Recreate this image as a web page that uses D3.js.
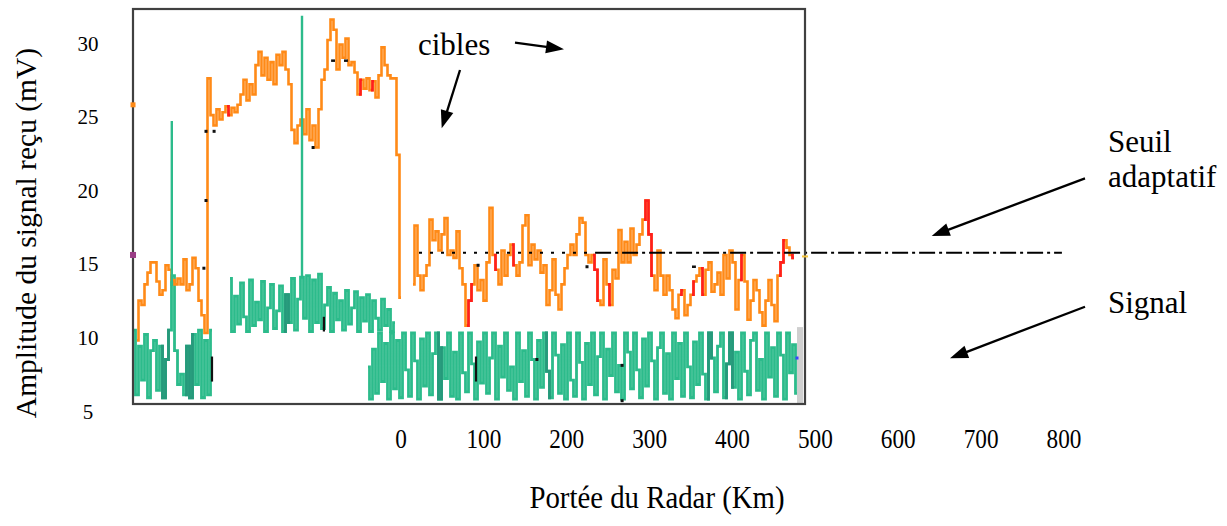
<!DOCTYPE html>
<html>
<head>
<meta charset="utf-8">
<script src="https://cdn.jsdelivr.net/npm/d3@7"></script>
<style>
  body { margin: 0; background: #fff; }
  svg { display: block; }
  text { font-family: "Liberation Serif", "Times New Roman", serif; fill: #000; }
</style>
</head>
<body>
<svg id="chart" width="1227" height="526"></svg>
<script>
// ---- Data (amplitudes in mV, one value per range cell k = 0..222) ----

// Received signal (orange), null where nothing is drawn
const signalRecu = [
  null, 9.8, 12.5, 12.2, 13.6, 14.4, 15.1, 15.1, 13.8, 12.9,
  13.2, 14.9, 14.6, 13.9, 13.6, 14.0, 13.6, 15.3, 13.2, 13.6,
  15.4, 14.7, 12.5, 11.5, 10.3, 27.6, 25.1, 24.4, 25.5, 24.8,
  25.3, 25.7, 25.1, 25.6, 25.3, 25.8, 26.5, 27.5, 26.1, 27.2,
  26.5, 28.5, 29.4, 27.8, 29.0, 27.5, 28.7, 27.2, 29.2, 28.5,
  29.4, 28.2, 27.2, 24.1, 23.2, 24.4, 24.8, 23.8, 25.5, 23.4,
  24.4, 22.9, 25.5, 27.5, 28.2, 30.2, 31.6, 30.9, 28.2, 29.9,
  29.0, 30.3, 28.5, 28.7, 28.0, 26.5, 27.5, 26.9, 27.6, 26.8,
  27.4, 26.3, 27.8, 29.7, 28.5, 27.8, 27.6, 27.6, 22.4, 12.7,
  null, null, null, 13.6, 17.6, 14.2, 13.2, 14.2, 14.9, 18.0,
  16.6, 17.2, 15.9, 17.0, 18.1, 15.6, 15.9, 15.4, 17.2, 14.7,
  13.6, 10.8, 12.5, 13.6, 14.9, 13.2, 13.9, 12.5, 15.1, 18.8,
  15.6, 14.6, 13.6, 15.9, 14.2, 15.6, 16.3, 14.9, 14.2, 15.1,
  17.6, 18.3, 14.9, 16.3, 15.3, 15.9, 14.4, 14.9, 12.2, 13.2,
  15.3, 12.9, 11.9, 13.6, 14.7, 15.6, 16.3, 15.6, 17.0, 18.1,
  17.8, 15.6, 15.1, 15.6, 14.6, 12.5, 12.2, 15.3, 13.6, 12.2,
  14.6, 14.0, 17.3, 15.1, 16.5, 15.1, 17.4, 15.6, 16.3, 17.0,
  18.0, 19.3, 17.0, 14.2, 13.2, 15.9, 14.2, 12.9, 14.2, 13.2,
  11.9, 11.3, 12.9, 13.2, 11.5, 12.2, 12.9, 13.8, 14.2, 14.7,
  12.9, 14.6, 15.1, 13.1, 13.6, 14.4, 12.9, 15.6, 14.0, 15.9,
  15.1, 11.9, 13.9, 15.6, 13.8, 11.2, 12.5, 13.9, 13.2, 11.7,
  10.8, 12.5, 13.9, 12.2, 11.1, 14.2, 15.1, 16.6, 16.1, 15.6,
  15.4, null, null
];

// Cells of the received signal shown in red (inclusive k ranges)
const detectionsRouges = [
  [31, 31], [75, 75], [79, 79], [111, 112], [120, 120], [126, 126],
  [153, 154], [158, 158], [170, 172], [182, 182], [186, 186], [189, 189],
  [202, 202], [215, 216], [219, 220]
];

// Signal (green): three blocks, each with its first cell index
const signalGaucheDebut = 0;
const signalGauche = [
  10.5, 6.1, 9.4, 7.1, 10.2, 5.9, 9.1, 9.8, 6.4, 9.4,
  5.9, 8.5, 10.5, 14.2, 9.1, 6.8, 7.5, 6.1, 9.4, 5.9,
  10.2, 6.8, 10.5, 5.9, 9.8, 6.1, 10.5
];
const signalHautDebut = 32;
const signalHaut = [
  14.0, 10.4, 12.8, 10.9, 13.7, 11.4, 10.4, 13.9, 10.8, 12.4,
  11.2, 13.8, 10.4, 12.0, 13.6, 10.6, 11.8, 13.5, 10.4, 12.9,
  11.0, 14.0, 10.5, 12.6, 14.1, 11.3, 14.2, 10.4, 13.9, 11.0,
  14.3, 10.6, 12.2, 13.4, 10.4, 13.0, 11.2, 12.5, 10.5, 13.2,
  10.9, 12.0, 13.1, 10.4, 12.7, 11.1, 12.9, 10.4, 12.5, 11.3,
  10.5, 12.6, 10.8, 11.9, 10.4, 11.0
];
const signalDroiteDebut = 78;
const signalDroite = [
  8.0, 5.8, 9.2, 6.2, 10.3, 7.0, 9.6, 5.8, 10.3, 6.5,
  9.8, 5.9, 10.3, 7.8, 6.0, 10.3, 8.4, 5.8, 9.9, 6.7,
  10.3, 6.1, 8.9, 10.3, 5.8, 9.3, 7.2, 10.3, 6.0, 9.0,
  5.8, 10.3, 7.6, 6.3, 10.3, 8.2, 5.8, 9.7, 6.9, 10.3,
  6.2, 8.6, 10.3, 5.8, 9.4, 7.3, 10.3, 6.4, 8.0, 5.8,
  10.3, 7.0, 9.1, 6.0, 10.3, 8.5, 5.8, 9.8, 6.6, 10.3,
  7.7, 5.9, 10.3, 8.8, 6.2, 9.5, 5.8, 10.3, 7.1, 6.0,
  10.3, 8.3, 5.8, 9.6, 6.8, 10.3, 6.1, 8.7, 10.3, 5.8,
  9.2, 7.4, 10.3, 6.3, 8.1, 5.8, 10.3, 9.0, 6.5, 10.3,
  7.8, 5.9, 9.9, 6.7, 10.3, 8.4, 5.8, 9.3, 10.3, 6.2,
  8.9, 5.8, 10.3, 7.2, 9.6, 6.0, 10.3, 8.0, 5.9, 9.7,
  6.8, 10.3, 7.5, 5.8, 10.3, 8.6, 6.3, 9.4, 10.3, 5.9,
  8.2, 10.3, 6.6, 9.0, 5.8, 10.3, 7.7, 6.1, 9.8, 10.3,
  6.4, 8.5, 5.8, 10.3, 7.3, 9.3, 6.0, 10.3, 8.8, 5.8,
  10.3, 7.6, 9.5, 6.2
];
// Darker green overlay ranges (inclusive k)
const signalFonce = [[9, 11], [17, 19], [50, 51], [101, 102], [137, 138], [191, 192], [197, 199]];

// Isolated echoes (green spikes): cell, base and peak in mV
const echos = [
  { k: 12.6, base: 13.5, pic: 24.7 },
  { k: 56.0, base: 14.0, pic: 31.85 }
];

// Adaptive threshold level and its drawn spans (k ranges)
const seuilNiveau = 15.75;
const seuilPointille = [95, 152.7];
const seuilTiretPoint = [153.7, 309.3];

// Individual threshold samples (black marks)
const seuilPoints = [[24, 24.0], [26.7, 24.0], [24, 19.3], [23.3, 14.7], [59.7, 22.9],
                     [114.7, 14.9], [151, 14.8], [134.3, 8.5], [162.7, 8.1], [162.7, 5.7]];
const seuilTirets = [[65.7, 67, 28.8], [70, 71.3, 28.8], [186, 187.3, 14.8]];
const seuilVerticaux = [[26, 8.7, 7.0], [63.3, 11.4, 10.4], [114, 8.7, 7.0]];

// Small markers on the frame edges
const reperes = [
  { k: -0.33, v: 25.8, c: "#ff8a17", w: 5, h: 5 },
  { k: -0.33, v: 15.6, c: "#9a3d86", w: 6, h: 6 },
  { k: 223.67, v: 15.5, c: "#f2c23a", w: 6, h: 2 },
  { k: 221, v: 8.6, c: "#3a45ff", w: 3, h: 3 }
];
const bandeGrise = { k0: 221, k1: 223, haut: 10.7 };

// Axis labels
const yTicks = [5, 10, 15, 20, 25, 30];
const xTicks = [0, 100, 200, 300, 400, 500, 600, 700, 800];

// ---- Drawing ----
const svg = d3.select("#chart");
const frame = { left: 133, right: 805, top: 9, bottom: 404 };

const xk = d3.scaleLinear().domain([0, 222]).range([134, 800]);
const y = d3.scaleLinear().domain([5, 30]).range([411, 43]);
const xKm = d3.scaleLinear().domain([0, 800]).range([401, 1064]);

const COL_ORANGE = "#ff8a17", COL_RED = "#ff1e1e", COL_GREEN = "#2cbb8b", COL_DKGREEN = "#26997b";

const toPts = (arr, start) => arr.map((v, i) => ({ k: start + i, v }));
const line = d3.line()
  .defined(d => d.v != null)
  .x(d => xk(d.k))
  .y(d => y(d.v))
  .curve(d3.curveStep);
const sub = (pts, a, b) => pts.filter(d => d.k >= a && d.k <= b);

// grey band at the right end
svg.append("rect")
  .attr("x", xk(bandeGrise.k0)).attr("width", xk(bandeGrise.k1) - xk(bandeGrise.k0))
  .attr("y", y(bandeGrise.haut)).attr("height", frame.bottom - y(bandeGrise.haut))
  .attr("fill", "#cfcfcf");

// green signal blocks
const gLeft = toPts(signalGauche, signalGaucheDebut);
const gUp = toPts(signalHaut, signalHautDebut);
const gRight = toPts(signalDroite, signalDroiteDebut);
const gSignal = svg.append("g").attr("fill", "none").attr("stroke-width", 2.8).attr("stroke-linejoin", "miter");
[gUp, gLeft, gRight].forEach(pts => {
  gSignal.append("path").attr("d", line(pts)).attr("stroke", COL_GREEN);
});
signalFonce.forEach(([a, b]) => {
  [gLeft, gUp, gRight].forEach(pts => {
    const s = sub(pts, a, b + 1);
    if (s.length > 1) gSignal.append("path").attr("d", line(s)).attr("stroke", COL_DKGREEN);
  });
});

// received signal
const orangePts = toPts(signalRecu, 0);
svg.append("path")
  .attr("d", line(orangePts))
  .attr("fill", "none").attr("stroke", COL_ORANGE).attr("stroke-width", 2.6);
detectionsRouges.forEach(([a, b]) => {
  const s = sub(orangePts, a, b + 1).filter(d => d.v != null);
  if (s.length > 1) svg.append("path").attr("d", line(s))
    .attr("fill", "none").attr("stroke", COL_RED).attr("stroke-width", 2.6);
});

// isolated echoes
svg.selectAll(".echo").data(echos).join("line")
  .attr("x1", d => xk(d.k)).attr("x2", d => xk(d.k))
  .attr("y1", d => y(d.base)).attr("y2", d => y(d.pic))
  .attr("stroke", COL_GREEN).attr("stroke-width", 2.4);

// threshold samples
svg.selectAll(".sp").data(seuilPoints).join("rect")
  .attr("x", d => xk(d[0]) - 1.5).attr("y", d => y(d[1]) - 1.5)
  .attr("width", 3).attr("height", 3).attr("fill", "#111");
svg.selectAll(".st").data(seuilTirets).join("line")
  .attr("x1", d => xk(d[0])).attr("x2", d => xk(d[1]))
  .attr("y1", d => y(d[2])).attr("y2", d => y(d[2]))
  .attr("stroke", "#111").attr("stroke-width", 2.5);
svg.selectAll(".sv").data(seuilVerticaux).join("line")
  .attr("x1", d => xk(d[0])).attr("x2", d => xk(d[0]))
  .attr("y1", d => y(d[1])).attr("y2", d => y(d[2]))
  .attr("stroke", "#111").attr("stroke-width", 2.2);

// adaptive threshold line
svg.append("line")
  .attr("x1", xk(seuilPointille[0])).attr("x2", xk(seuilPointille[1]))
  .attr("y1", y(seuilNiveau)).attr("y2", y(seuilNiveau))
  .attr("stroke", "#000").attr("stroke-width", 2).attr("stroke-dasharray", "3,8");
svg.append("line")
  .attr("x1", xk(seuilTiretPoint[0])).attr("x2", xk(seuilTiretPoint[1]))
  .attr("y1", y(seuilNiveau)).attr("y2", y(seuilNiveau))
  .attr("stroke", "#000").attr("stroke-width", 2).attr("stroke-dasharray", "16,4,3,4");

// frame
svg.append("rect")
  .attr("x", frame.left).attr("y", frame.top)
  .attr("width", frame.right - frame.left).attr("height", frame.bottom - frame.top)
  .attr("fill", "none").attr("stroke", "#404040").attr("stroke-width", 2.2);

// edge markers
svg.selectAll(".rep").data(reperes).join("rect")
  .attr("x", d => xk(d.k) - d.w / 2).attr("y", d => y(d.v) - d.h / 2)
  .attr("width", d => d.w).attr("height", d => d.h).attr("fill", d => d.c);

// y tick labels
svg.selectAll(".yt").data(yTicks).join("text")
  .attr("x", 88).attr("y", d => y(d) + 7.5)
  .attr("text-anchor", "middle").attr("font-size", 21)
  .text(d => d);

// x tick labels
svg.selectAll(".xt").data(xTicks).join("text")
  .attr("transform", d => `translate(${xKm(d)},448) scale(0.86,1)`)
  .attr("text-anchor", "middle").attr("font-size", 27)
  .text(d => d);

// axis titles
svg.append("text")
  .attr("transform", "translate(36,233) rotate(-90)")
  .attr("text-anchor", "middle").attr("font-size", 29.5)
  .text("Amplitude du signal reçu (mV)");
svg.append("text")
  .attr("transform", "translate(657,508) scale(0.9,1)")
  .attr("text-anchor", "middle").attr("font-size", 32)
  .text("Portée du Radar (Km)");

// annotations
const note = (x, yy, t) => svg.append("text").attr("x", x).attr("y", yy).attr("font-size", 31).text(t);
note(418, 55, "cibles");
note(1108, 152, "Seuil");
note(1108, 187, "adaptatif");
note(1108, 313, "Signal");

const fleches = [
  [515, 42.7, 564, 49.3],
  [460, 70, 441.7, 128.3],
  [1085, 178.3, 931.7, 236],
  [1085, 306.7, 950, 358.3]
];
fleches.forEach(([x1, y1, x2, y2]) => {
  const dx = x2 - x1, dy = y2 - y1, L = Math.hypot(dx, dy);
  const ux = dx / L, uy = dy / L, hl = 18, hw = 6.5;
  const bx = x2 - ux * hl, by = y2 - uy * hl;
  svg.append("line").attr("x1", x1).attr("y1", y1).attr("x2", bx + ux * 2).attr("y2", by + uy * 2)
    .attr("stroke", "#000").attr("stroke-width", 2.3);
  svg.append("path")
    .attr("d", `M${x2},${y2}L${bx - uy * hw},${by + ux * hw}L${bx + uy * hw},${by - ux * hw}Z`)
    .attr("fill", "#000");
});
</script>
</body>
</html>
